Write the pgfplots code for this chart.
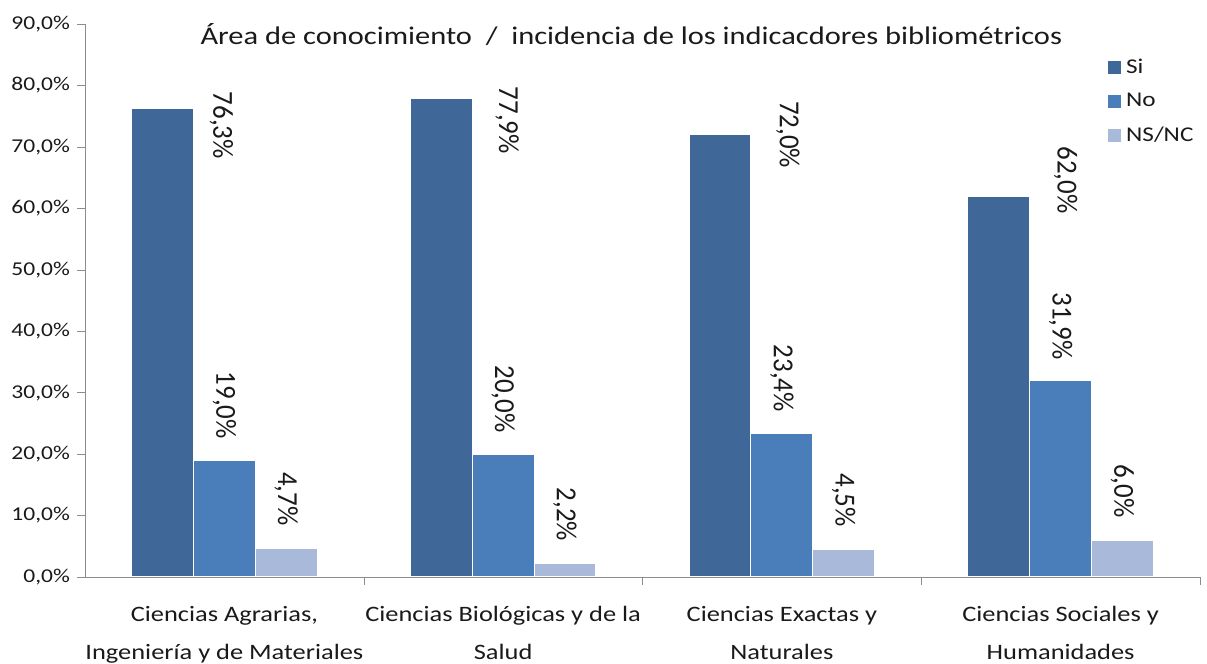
\documentclass[border=0pt]{standalone}
\usepackage{fontspec}
\setmainfont{Carlito}[FakeStretch=1.2]
\newfontfamily\lblfont{Carlito}[FakeStretch=0.93]
\usepackage{pgfplots}
\pgfplotsset{compat=1.18}
\definecolor{cSi}{HTML}{3F6797}
\definecolor{cNo}{HTML}{4A7EBB}
\definecolor{cNS}{HTML}{A8B9D9}
\definecolor{axgray}{HTML}{8C8C8C}
\definecolor{txt}{HTML}{1A1A1A}

% xoff/off: where the Si labels sit, right of and above the bar top (pt)
\pgfplotstableread{
x y xoff off
0 76.3 29.5 8.5
1 77.9 33 6
2 72.0 34 17
3 62.0 33.5 25
}\tabSi
\pgfplotstableread{
x y
0 19.0
1 20.0
2 23.4
3 31.9
}\tabNo
\pgfplotstableread{
x y
0 4.7
1 2.2
2 4.5
3 6.0
}\tabNS

\newcommand{\pct}{\pgfmathprintnumber[assume math mode=true,fixed,fixed zerofill,precision=1,use comma]{\pgfplotspointmeta}\%}

\begin{document}
\begin{tikzpicture}
\useasboundingbox (-42.5pt,-43.5pt) rectangle (561pt,288.5pt);
\begin{axis}[
  at={(0,0)}, anchor=south west,
  scale only axis, width=557.5pt, height=276.5pt,
  ybar, ymin=0, ymax=90, ytick={0,10,...,90},
  xmin=-0.5, xmax=3.5,
  xtick={0,1,2,3},
  xticklabels={{Ciencias Agrarias,\\Ingeniería y de Materiales},
               {Ciencias Biológicas y de la\\Salud},
               {Ciencias Exactas y\\Naturales},
               {Ciencias Sociales y\\Humanidades}},
  xticklabel style={align=center, font=\fontsize{11}{19}\selectfont, text=txt, yshift=-7pt},
  minor xtick={0.5,1.5,2.5,3.5},
  axis lines*=left,
  axis line style={axgray},
  major x tick style={draw=none},
  minor x tick style={axgray},
  ytick style={axgray},
  major tick length=4pt, minor tick length=4pt,
  tick align=outside,
  yticklabel={\pgfmathprintnumber[assume math mode=true,fixed,fixed zerofill,precision=1,use comma]{\tick}\%},
  yticklabel style={font=\fontsize{9.8}{12}\selectfont, text=txt},
  bar width=0.222,
  legend style={at={(rel axis cs:0.911,0.952)}, anchor=north west, draw=none, fill=none,
    font=\fontsize{10.5}{12}\selectfont, text=txt, row sep=4.5pt},
  legend cell align=left,
  legend image code/.code={\fill[#1] (0pt,-3.5pt) rectangle (7pt,3.5pt);},
]
\addplot[fill=cSi, draw=white, line width=0.5pt, bar shift=-0.222,
  visualization depends on={\thisrow{off}\as\off},
  visualization depends on={\thisrow{xoff}\as\xoff},
  nodes near coords=\pct,
  every node near coord/.append style={xshift=\xoff, yshift=\off, rotate=-90, anchor=west,
    inner sep=0pt, font=\lblfont\fontsize{14.5}{16}\selectfont, text=txt}]
  table[x=x,y=y] {\tabSi};
\addlegendentry{Si}
\addplot[fill=cNo, draw=white, line width=0.5pt, bar shift=0,
  nodes near coords=\pct,
  every node near coord/.append style={yshift=10.5pt, rotate=-90, anchor=east,
    inner sep=0pt, font=\lblfont\fontsize{14.5}{16}\selectfont, text=txt}]
  table[x=x,y=y] {\tabNo};
\addlegendentry{No}
\addplot[fill=cNS, draw=white, line width=0.5pt, bar shift=0.222,
  nodes near coords=\pct,
  every node near coord/.append style={yshift=11pt, rotate=-90, anchor=east,
    inner sep=0pt, font=\lblfont\fontsize{14.5}{16}\selectfont, text=txt}]
  table[x=x,y=y] {\tabNS};
\addlegendentry{NS/NC}
\node[font=\fontsize{12.7}{15}\selectfont, text=txt] at (rel axis cs:0.49,0.982)
  {Área de conocimiento\ \ /\ \ incidencia de los indicacdores bibliométricos};
\end{axis}
\end{tikzpicture}
\end{document}
